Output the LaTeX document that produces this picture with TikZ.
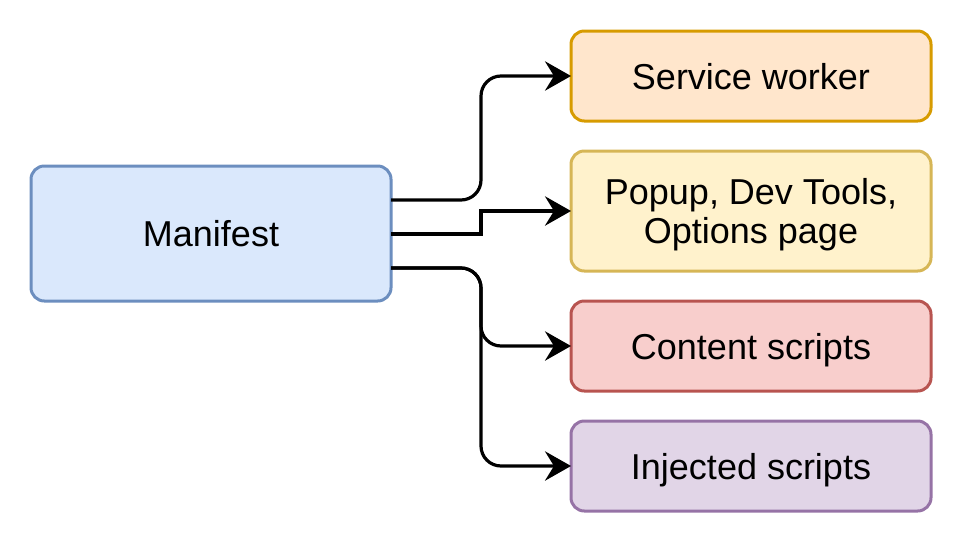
\documentclass[tikz,border=0pt]{standalone}
\usepackage{fontspec}
\setmainfont{Liberation Sans}
\usetikzlibrary{arrows.meta,calc}
\definecolor{blueF}{HTML}{DAE8FC}\definecolor{blueD}{HTML}{6C8EBF}
\definecolor{orangeF}{HTML}{FFE6CC}\definecolor{orangeD}{HTML}{D79B00}
\definecolor{yellowF}{HTML}{FFF2CC}\definecolor{yellowD}{HTML}{D6B656}
\definecolor{redF}{HTML}{F8CECC}\definecolor{redD}{HTML}{B85450}
\definecolor{purpleF}{HTML}{E1D5E7}\definecolor{purpleD}{HTML}{9673A6}
\begin{document}
\begin{tikzpicture}[x=0.75pt,y=-0.75pt,
  box/.style={draw, line width=2.25pt, rounded corners=10pt, inner sep=0pt, outer sep=0pt,
    minimum width=270pt, align=center, font=\fontsize{27pt}{29.5pt}\selectfont},
  oneline/.style={box, text depth=0pt},
  conn/.style={line width=2.4pt, -{Stealth[length=19.5pt,width=22pt,inset=6.75pt]}},
  roundbend/.style={rounded corners=15pt}]
\useasboundingbox (0,0) rectangle (963,543);
\node[oneline, fill=blueF, draw=blueD, minimum height=101.25pt] (man) at (211,233.5) {Manifest};
\node[oneline, fill=orangeF, draw=orangeD, minimum height=67.5pt] (sw) at (751,76) {Service worker};
\node[box, fill=yellowF, draw=yellowD, minimum height=90pt] (pop) at (751,211) {Popup, Dev Tools,\\\smash{Options page}};
\node[oneline, fill=redF, draw=redD, minimum height=67.5pt] (cs) at (751,346) {Content scripts};
\node[oneline, fill=purpleF, draw=purpleD, minimum height=67.5pt] (inj) at (751,466) {Injected scripts};

% exits on the right side of Manifest and the bend column halfway across
\coordinate (s1) at ($(man.east)+(0,-33.5)$);
\coordinate (s2) at ($(man.east)+(0,0.5)$);
\coordinate (s3) at ($(man.east)+(0,34.5)$);
\coordinate (jx) at ($(man.east)!0.5!(sw.west)$);

\draw[conn, roundbend] (s1) -| (jx |- sw.west) -- (sw.west);
\draw[conn] (s2) -| (jx |- pop.west) -- (pop.west);
\draw[conn, roundbend] (s3) -| (jx |- cs.west) -- (cs.west);
\draw[conn, roundbend] (s3) -| (jx |- inj.west) -- (inj.west);
\end{tikzpicture}
\end{document}
